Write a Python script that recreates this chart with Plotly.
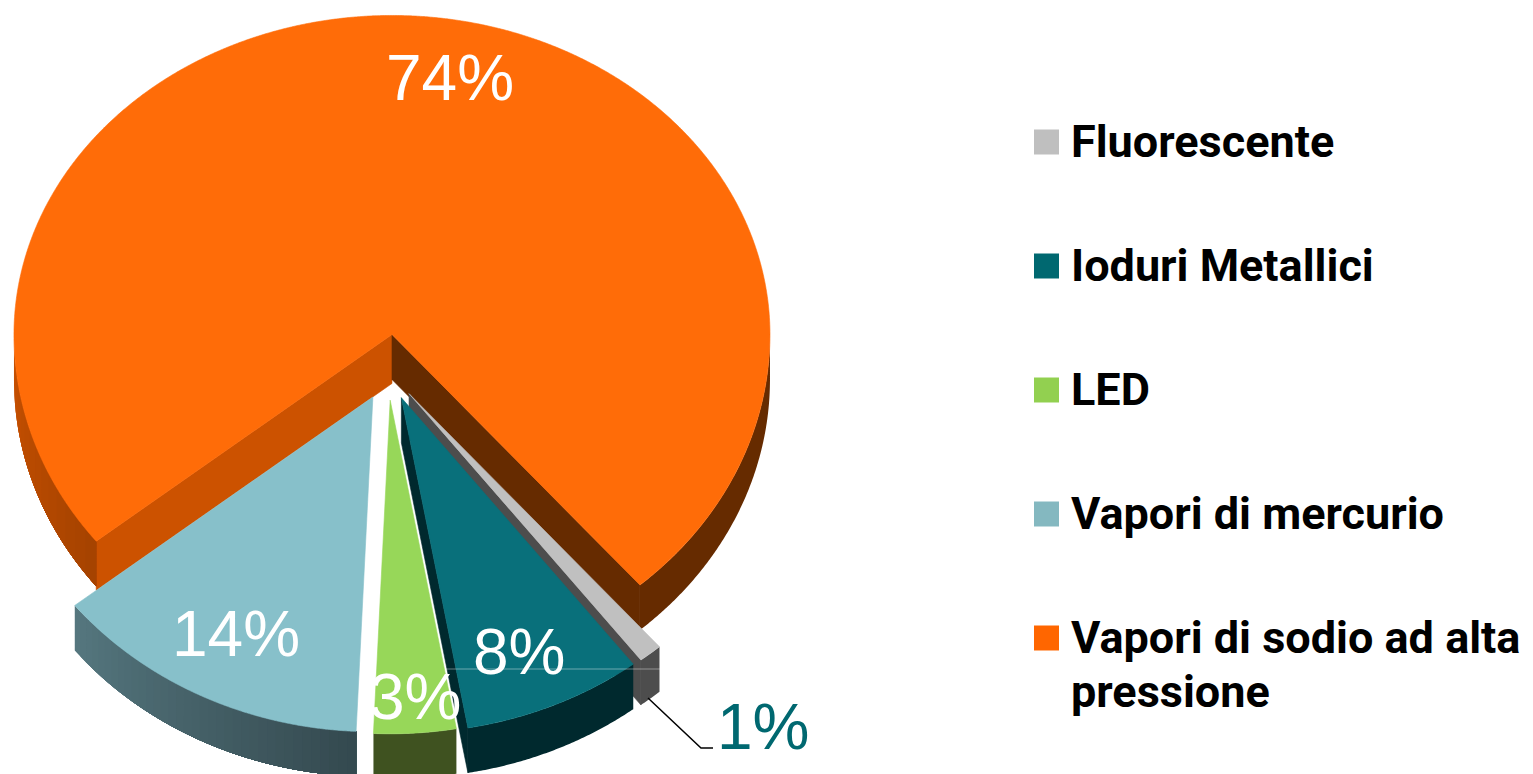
import numpy as np
import plotly.graph_objects as go

# --- data ---
categories = ["Fluorescente", "Ioduri Metallici", "LED", "Vapori di mercurio",
              "Vapori di sodio ad alta<br>pressione"]
values = [1.0, 7.6, 3.49, 13.6, 74.31]
top_colors = ["#c0c0c0", "#09707b", "#97d759", "#87c0ca", "#ff6c08"]
legend_colors = ["#bfbfbf", "#006870", "#92d050", "#84b8c0", "#ff6600"]

# --- projection of the tilted pie, in pixels ---
W, H = 1533, 774
CX, CY = 388, 371
RX, RY_BACK, RY_FRONT = 378, 319, 332
DEPTH = 45
START = 139.0
PULL = [0.088, 0.088, 0.088, 0.088, 0.115]
SCALE = [1.01, 1.01, 1.005, 1.008, 1.0]


def unit(theta):
    t = np.radians(np.asarray(theta, dtype=float))
    c = np.cos(t)
    return RX * np.sin(t), np.where(c > 0, -RY_BACK * c, -RY_FRONT * c)


fig = go.Figure()


def poly(xs, ys, color, lw=0.6):
    xs = np.append(xs, xs[0])
    ys = np.append(ys, ys[0])
    fig.add_trace(go.Scatter(x=xs, y=ys, mode="lines", fill="toself", fillcolor=color,
                             line=dict(color=color, width=lw, simplify=False),
                             hoverinfo="skip", showlegend=False))


def mix(a, b, f):
    ca = [int(a[i:i + 2], 16) for i in (1, 3, 5)]
    cb = [int(b[i:i + 2], 16) for i in (1, 3, 5)]
    return "rgb(%d,%d,%d)" % tuple(round(p + (q - p) * f) for p, q in zip(ca, cb))


def wall(ax, ay, s, t0, t1, c0, c1, n=24):
    # painted band by band: every band runs on to the far end, so no seams show
    edges = np.linspace(t0, t1, n + 1)
    for i in range(n):
        th = np.linspace(edges[i], t1, max(6, int(abs(t1 - edges[i]) * 3) + 2))
        ux, uy = unit(th)
        xs, ys = ax + s * ux, ay + s * uy
        poly(np.r_[xs, xs[::-1]], np.r_[ys, ys[::-1] + DEPTH], mix(c0, c1, (i + 0.5) / n), lw=0)


def radial(ax, ay, s, t, color, depth=DEPTH):
    ux, uy = unit(t)
    poly(np.array([ax, ax + s * ux, ax + s * ux, ax]),
         np.array([ay, ay + s * uy, ay + s * uy + depth, ay + depth]), color)


# cumulative angles from the values
spans = [v / sum(values) * 360 for v in values]
bounds = START + np.r_[0, np.cumsum(spans)]
geom = []
for i in range(len(values)):
    t0, t1 = bounds[i], bounds[i + 1]
    px, py = unit((t0 + t1) / 2)
    geom.append((CX + PULL[i] * px, CY + PULL[i] * py, SCALE[i], t0, t1))


def top(i):
    ax, ay, s, t0, t1 = geom[i]
    ux, uy = unit(np.linspace(t0, t1, max(8, int((t1 - t0) * 4))))
    poly(np.r_[ax, ax + s * ux], np.r_[ay, ay + s * uy], top_colors[i])


# orange slice, back first
ax, ay, s, t0, t1 = geom[4]
radial(ax, ay, s, t0, "#cc5200", depth=DEPTH + 4)
radial(ax, ay, s, t1, "#662b00")
wall(ax, ay, s, 90, t1 - 360, "#662b00", "#662b00", n=1)
wall(ax, ay, s, 270, t0, "#c95000", "#a54300", n=14)
top(4)

# mercury
ax, ay, s, t0, t1 = geom[3]
wall(ax, ay, s, t1, t0, "#55777f", "#34494f", n=36)
top(3)

# LED
ax, ay, s, t0, t1 = geom[2]
wall(ax, ay, s, t0, t1, "#3f5220", "#3f5220", n=1)
top(2)

# fluorescent walls lie under the iodide slice; its top face lies over it
ax, ay, s, t0, t1 = geom[0]
radial(ax, ay, s, t1, "#4d4d4d")
wall(ax, ay, s, t0, t1, "#4d4d4d", "#4d4d4d", n=1)

# iodides
ax, ay, s, t0, t1 = geom[1]
radial(ax, ay, s, t1, "#00292e")
wall(ax, ay, s, t0, t1, "#00292e", "#00292e", n=1)
top(1)

top(0)

# faint hairline across the 8% slice, and leader of the 1% label
fig.add_trace(go.Scatter(x=[445, 660], y=[669, 669], mode="lines",
                         line=dict(color="rgba(255,255,255,0.4)", width=1),
                         hoverinfo="skip", showlegend=False))
fig.add_trace(go.Scatter(x=[648, 701, 713], y=[698, 748, 748], mode="lines",
                         line=dict(color="#000000", width=1.5),
                         hoverinfo="skip", showlegend=False))

# legend
LEG_Y = [142, 266, 390, 514, 638]
LINE_STEP = 54
fig.add_trace(go.Scatter(x=[1046.5] * 5, y=LEG_Y, mode="markers",
                         marker=dict(symbol="square", size=25, color=legend_colors, line=dict(width=0)),
                         hoverinfo="skip", showlegend=False))

annotations = []
for name, y in zip(categories, LEG_Y):
    for k, part in enumerate(name.split("<br>")):
        annotations.append(dict(x=1069, y=y - 29 + k * LINE_STEP, xref="x", yref="y",
                                text="<b>" + part + "</b>", showarrow=False,
                                xanchor="left", yanchor="top", align="left",
                                font=dict(family="Roboto", size=45, color="#000000")))

LABEL_POS = [(763, 727, "#006870"), (519, 652, "#ffffff"), (415, 697, "#ffffff"),
             (236, 634, "#ffffff"), (450, 78, "#ffffff")]
for v, (x, y, c) in zip(values, LABEL_POS):
    annotations.append(dict(x=x, y=y, xref="x", yref="y", text=f"{v:.0f}%", showarrow=False,
                            xanchor="center", yanchor="middle",
                            font=dict(family="Liberation Sans", size=64, color=c)))

fig.update_layout(
    width=W, height=H, autosize=False, margin=dict(l=0, r=0, t=0, b=0),
    paper_bgcolor="#ffffff", plot_bgcolor="#ffffff", showlegend=False,
    xaxis=dict(range=[0, W], visible=False, fixedrange=True),
    yaxis=dict(range=[H, 0], visible=False, fixedrange=True),
    annotations=annotations,
)
fig.write_html("out.html", config={"displayModeBar": False},
               post_script="document.body.style.margin='0';document.documentElement.style.overflow='hidden';")
